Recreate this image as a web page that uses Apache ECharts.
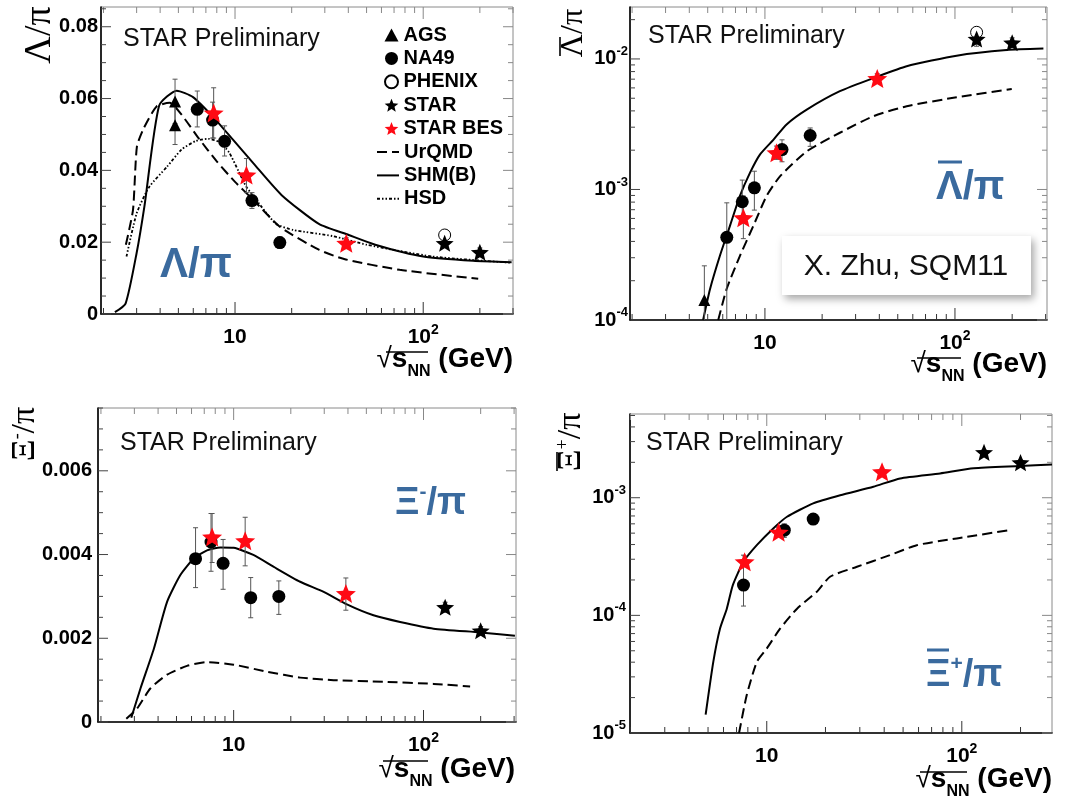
<!DOCTYPE html>
<html><head><meta charset="utf-8">
<script src="https://cdn.jsdelivr.net/npm/echarts@6/dist/echarts.min.js"></script>
<style>html,body{margin:0;padding:0;background:#fff}#c{width:1085px;height:809px}</style>
</head><body><div id="c"></div>
<script>
// ---------------- DATA ----------------
// energies (sqrt(s_NN), GeV)
const E_AGS = [4.8, 4.8];
const E_NA49 = [6.3, 7.6, 8.8, 12.3, 17.3];
const E_BES = [7.7, 11.5, 39];
const E_STAR = [130, 200];
const E_PHENIX = [130];
const E_NA49_XIBAR = [7.6, 12.3, 17.3];

// Panel 1: Lambda/pi
const L_AGS = [0.0592, 0.0526], L_AGS_LO = [0.0530, 0.0472], L_AGS_HI = [0.0654, 0.0580];
const L_NA49 = [0.0570, 0.0540, 0.0481, 0.0316, 0.0199];
const L_NA49_LO = [0.0521, 0.0490, 0.0440, 0.0294, 0.0183];
const L_NA49_HI = [0.0621, 0.0590, 0.0524, 0.0338, 0.0215];
const L_BES = [0.0560, 0.0387, 0.0197], L_BES_LO = [0.0490, 0.0338, 0.0182], L_BES_HI = [0.0630, 0.0433, 0.0212];
const L_STAR = [0.0197, 0.0172], L_STAR_LO = [0.0185, 0.0160], L_STAR_HI = [0.0209, 0.0184];
const L_PHENIX = [0.0220], L_PHENIX_LO = [0.0210], L_PHENIX_HI = [0.0230];
const L_SHM_X = [2.3, 2.62, 3.0, 3.3, 3.95, 4.9, 5.98, 7.64, 9.8, 12.5, 17.7, 27.9, 40.2, 55.6, 100, 184, 295];
const L_SHM_Y = [0.0005, 0.0029, 0.0170, 0.0300, 0.0580, 0.0622, 0.0604, 0.0549, 0.0484, 0.0420, 0.0331, 0.0251, 0.0220, 0.0193, 0.0160, 0.0148, 0.0144];
const L_URQMD_X = [2.63, 2.87, 3.01, 3.27, 3.83, 4.5, 5.2, 6.4, 8.0, 10, 12.5, 17.3, 27.9, 38, 75, 196];
const L_URQMD_Y = [0.0193, 0.0290, 0.0466, 0.0517, 0.0578, 0.0588, 0.0555, 0.0490, 0.0425, 0.0368, 0.0318, 0.0243, 0.0179, 0.0153, 0.0123, 0.0098];
const L_HSD_X = [2.65, 3.0, 3.5, 4.35, 5.2, 6.2, 7.2, 8.3, 9.3, 10.5, 11.5, 14.7, 16.6, 20.4, 33, 50, 113, 290];
const L_HSD_Y = [0.0160, 0.0280, 0.0354, 0.0410, 0.0458, 0.0482, 0.0488, 0.0478, 0.0450, 0.0395, 0.0354, 0.0281, 0.0250, 0.0234, 0.0217, 0.0193, 0.0160, 0.0143];

// Panel 2: anti-Lambda/pi
const AL_AGS = [1.42e-4], AL_AGS_LO = [5e-5], AL_AGS_HI = [2.6e-4];
const AL_NA49 = [4.3e-4, 8.05e-4, 1.03e-3, 2.02e-3, 2.59e-3];
const AL_NA49_LO = [5e-5, 5.6e-4, 6.95e-4, 1.63e-3, 2.14e-3];
const AL_NA49_HI = [7.9e-4, 1.18e-3, 1.38e-3, 2.40e-3, 2.96e-3];
const AL_BES = [6.07e-4, 1.91e-3, 7.07e-3], AL_BES_LO = [4.2e-4, 1.70e-3, 6.5e-3], AL_BES_HI = [8.9e-4, 2.15e-3, 7.7e-3];
const AL_STAR = [0.0142, 0.0133], AL_STAR_LO = [0.0125, 0.0122], AL_STAR_HI = [0.0158, 0.0145];
const AL_PHENIX = [0.0160], AL_PHENIX_LO = [0.0150], AL_PHENIX_HI = [0.0175];
const AL_SHM_X = [4.73, 5.14, 5.79, 6.54, 7.38, 8.34, 9.41, 11.1, 13.0, 16.6, 24.8, 38.7, 55.7, 102, 187, 292];
const AL_SHM_Y = [1.0e-4, 1.72e-4, 3.09e-4, 5.24e-4, 8.9e-4, 1.34e-3, 1.85e-3, 2.41e-3, 3.15e-3, 4.09e-3, 5.66e-3, 7.28e-3, 8.79e-3, 1.06e-2, 1.17e-2, 1.20e-2];
const AL_URQMD_X = [5.68, 6.28, 7.38, 8.68, 10.2, 12.0, 16.6, 24.8, 37.2, 55.7, 102, 199];
const AL_URQMD_Y = [1.0e-4, 1.72e-4, 3.09e-4, 5.24e-4, 8.9e-4, 1.26e-3, 1.96e-3, 2.72e-3, 3.64e-3, 4.34e-3, 5.09e-3, 5.89e-3];

// Panel 3: Xi-/pi
const X_NA49 = [0.00390, 0.00430, 0.00379, 0.00297, 0.00300];
const X_NA49_LO = [0.00321, 0.00360, 0.00317, 0.00249, 0.00257];
const X_NA49_HI = [0.00464, 0.00498, 0.00436, 0.00345, 0.00337];
const X_BES = [0.00442, 0.00433, 0.00307], X_BES_LO = [0.00381, 0.00373, 0.00267], X_BES_HI = [0.00498, 0.00489, 0.00344];
const X_STAR = [0.00274, 0.00218], X_STAR_LO = [0.00262, 0.00208], X_STAR_HI = [0.00286, 0.00228];
const X_SHM_X = [2.89, 3.23, 3.8, 4.46, 5.24, 6.15, 7.24, 8.51, 10, 12.7, 16.2, 22.4, 29.8, 39.5, 54.5, 75.3, 113, 199, 303];
const X_SHM_Y = [0.0001, 0.0008, 0.00175, 0.00287, 0.00351, 0.00390, 0.00410, 0.00417, 0.00416, 0.00399, 0.00371, 0.00335, 0.00311, 0.00281, 0.00255, 0.00239, 0.00223, 0.00214, 0.00206];
const X_URQMD_X = [2.72, 3.1, 3.64, 4.46, 5.68, 7.24, 10, 15, 22.4, 33.6, 61.5, 113, 176];
const X_URQMD_Y = [0.00008, 0.00032, 0.00080, 0.00113, 0.00134, 0.00143, 0.00137, 0.00120, 0.00106, 0.00100, 0.00096, 0.00091, 0.00085];

// Panel 4: anti-Xi+/pi
const AX_NA49 = [1.81e-4, 5.3e-4, 6.58e-4], AX_NA49_LO = [1.2e-4, 4.6e-4, 6.2e-4], AX_NA49_HI = [3.25e-4, 6.0e-4, 7.0e-4];
const AX_BES = [2.85e-4, 5.1e-4, 1.66e-3], AX_BES_LO = [2.6e-4, 4.7e-4, 1.55e-3], AX_BES_HI = [3.2e-4, 5.6e-4, 1.78e-3];
const AX_STAR = [2.43e-3, 1.99e-3], AX_STAR_LO = [2.3e-3, 1.88e-3], AX_STAR_HI = [2.56e-3, 2.1e-3];
const AX_SHM_X = [4.86, 5.32, 5.76, 6.24, 6.7, 7.59, 8.89, 10.8, 12.7, 17.3, 23.8, 35.2, 48.3, 77.4, 115, 199, 290];
const AX_SHM_Y = [1.43e-5, 4.02e-5, 7.72e-5, 1.14e-4, 1.81e-4, 2.85e-4, 3.95e-4, 5.48e-4, 6.89e-4, 8.95e-4, 1.05e-3, 1.24e-3, 1.46e-3, 1.61e-3, 1.78e-3, 1.86e-3, 1.92e-3];
const AX_URQMD_X = [7.21, 7.89, 8.89, 10, 11.7, 14.3, 18.0, 21.1, 29.0, 42.8, 58.7, 94.2, 177];
const AX_URQMD_Y = [1.0e-5, 2.09e-5, 4.02e-5, 5.22e-5, 7.7e-5, 1.14e-4, 1.58e-4, 2.13e-4, 2.59e-4, 3.25e-4, 3.95e-4, 4.51e-4, 5.31e-4];

// ---------------- LAYOUT / STYLE ----------------
const FONT = "'Liberation Sans', Arial, Helvetica, sans-serif";
const SERIF = "'Liberation Serif', 'DejaVu Serif', serif";
const BLUE = '#3a6a9e';
const RED = '#ff0a14';
const STAR_PATH = 'path://M50,0 L62.93,32.2 L97.55,34.55 L70.92,56.8 L79.39,90.45 L50,72 L20.61,90.45 L29.08,56.8 L2.45,34.55 L37.07,32.2 Z';

const PANELS = [
  {grid: {left: 101, top: 7, width: 412, height: 307}, x: [1.94, 300], y: [0, 0.0855], ylog: false, yInt: 0.02, yMinor: 0.005, yDec: 2, yMargin: 3},
  {grid: {left: 630, top: 7, width: 417, height: 313}, x: [1.95, 305], y: [1e-4, 0.025], ylog: true, yMargin: 2},
  {grid: {left: 98, top: 408, width: 418, height: 314}, x: [1.93, 307], y: [0, 0.0075], ylog: false, yInt: 0.002, yMinor: 0.0005, yDec: 3, yMargin: 6},
  {grid: {left: 630, top: 414, width: 422, height: 319}, x: [1.99, 290], y: [1e-5, 0.00515], ylog: true, yMargin: 4}
];

const zip = (xs, ys) => xs.map((x, i) => [x, ys[i]]);
const zipErr = (xs, lo, hi) => xs.map((x, i) => [x, lo[i], hi[i]]);

function logTicks(a, b) {
  const out = [];
  for (let e = -6; e <= 3; e++) for (let m = 1; m <= 9; m++) {
    const v = m * Math.pow(10, e);
    if (v >= a * 0.999 && v <= b * 1.001) out.push([v, m === 1 ? 1 : 0]);
  }
  return out;
}
function linTicks(max, step, major) {
  const out = [];
  const ratio = Math.round(major / step);
  for (let k = 0; k * step <= max + 1e-12; k++) out.push([k * step, k % ratio === 0 ? 1 : 0]);
  return out;
}

const supRich = {
  b: {fontSize: 20, fontWeight: 'bold', fontFamily: FONT, color: '#000'},
  s: {fontSize: 13, fontWeight: 'bold', fontFamily: FONT, color: '#000', padding: [0, 0, 15, 0]}
};
const xSupRich = {
  b: {fontSize: 21, fontWeight: 'bold', fontFamily: FONT, color: '#000'},
  s: {fontSize: 14, fontWeight: 'bold', fontFamily: FONT, color: '#000', padding: [0, 0, 14, 0]}
};
function xLogLabel(v) {
  const l = Math.log10(v), r = Math.round(l);
  if (Math.abs(l - r) > 1e-6) return '';
  if (r === 1) return '{s| }{b|10}{s| }';
  return '{b|10}{s|' + r + '}';
}
function yLogLabel(v) {
  const l = Math.log10(v), r = Math.round(l);
  if (Math.abs(l - r) > 1e-6) return '';
  return '{b|10}{s|' + r + '}';
}

const grids = [], xAxes = [], yAxes = [], series = [];
PANELS.forEach((p, i) => {
  grids.push(Object.assign({show: true, borderColor: '#8a8a8a', borderWidth: 1, backgroundColor: 'transparent'}, p.grid));
  xAxes.push({
    type: 'log', logBase: 10, gridIndex: i, min: p.x[0], max: p.x[1],
    axisLine: {lineStyle: {color: '#000', width: 1.6}}, axisTick: {show: false}, splitLine: {show: false},
    axisLabel: {formatter: xLogLabel, rich: xSupRich, margin: 9, showMinLabel: false, showMaxLabel: false}
  });
  const ya = {
    gridIndex: i, min: p.y[0], max: p.y[1],
    axisLine: {lineStyle: {color: '#000', width: 1.6}}, axisTick: {show: false}, splitLine: {show: false}
  };
  if (p.ylog) {
    Object.assign(ya, {type: 'log', logBase: 10,
      axisLabel: {formatter: yLogLabel, rich: supRich, margin: p.yMargin}});
  } else {
    Object.assign(ya, {type: 'value', interval: p.yInt,
      axisLabel: {
        formatter: (v) => {
          const k = Math.round(v / p.yInt);
          if (Math.abs(v - k * p.yInt) > 1e-9) return '';
          return k === 0 ? '0' : (k * p.yInt).toFixed(p.yDec);
        },
        fontSize: 20, fontWeight: 'bold', fontFamily: FONT, color: '#000', margin: p.yMargin
      }});
  }
  yAxes.push(ya);

  // tick marks on all four sides (ROOT style)
  const xt = logTicks(p.x[0], p.x[1]).map(t => [t[0], p.y[0], t[1]]);
  const yt = (p.ylog ? logTicks(p.y[0], p.y[1]) : linTicks(p.y[1], p.yMinor, p.yInt)).map(t => [p.x[0], t[0], t[1]]);
  series.push({
    type: 'custom', xAxisIndex: i, yAxisIndex: i, silent: true, z: 5, data: xt,
    renderItem: (params, api) => {
      const v = api.value(0), major = api.value(2);
      const b = api.coord([v, p.y[0]]), t = api.coord([v, p.y[1]]);
      const L = major ? 12 : 6;
      return {type: 'group', children: [
        {type: 'line', shape: {x1: b[0], y1: b[1], x2: b[0], y2: b[1] - L}, style: {stroke: '#333', lineWidth: 1}},
        {type: 'line', shape: {x1: t[0], y1: t[1], x2: t[0], y2: t[1] + L}, style: {stroke: '#888', lineWidth: 1}}
      ]};
    }
  });
  series.push({
    type: 'custom', xAxisIndex: i, yAxisIndex: i, silent: true, z: 5, data: yt,
    renderItem: (params, api) => {
      const v = api.value(1), major = api.value(2);
      const l = api.coord([p.x[0], v]), r = api.coord([p.x[1], v]);
      const L = major ? 10 : 5;
      return {type: 'group', children: [
        {type: 'line', shape: {x1: l[0], y1: l[1], x2: l[0] + L, y2: l[1]}, style: {stroke: '#444', lineWidth: 1}},
        {type: 'line', shape: {x1: r[0], y1: r[1], x2: r[0] - L, y2: r[1]}, style: {stroke: '#888', lineWidth: 1}}
      ]};
    }
  });
});

function errSeries(i, xs, lo, hi) {
  return {
    type: 'custom', xAxisIndex: i, yAxisIndex: i, silent: true, z: 3, clip: true,
    data: zipErr(xs, lo, hi), encode: {x: 0, y: [1, 2]},
    renderItem: (params, api) => {
      const x = api.value(0);
      const a = api.coord([x, api.value(1)]), b = api.coord([x, api.value(2)]);
      const c = 2.5, st = {stroke: '#555', lineWidth: 1};
      return {type: 'group', children: [
        {type: 'line', shape: {x1: a[0], y1: a[1], x2: b[0], y2: b[1]}, style: st},
        {type: 'line', shape: {x1: a[0] - c, y1: a[1], x2: a[0] + c, y2: a[1]}, style: st},
        {type: 'line', shape: {x1: b[0] - c, y1: b[1], x2: b[0] + c, y2: b[1]}, style: st}
      ]};
    }
  };
}
const MARK = {
  'AGS': {symbol: 'triangle', symbolSize: 12, itemStyle: {color: '#000', opacity: 1}},
  'NA49': {symbol: 'circle', symbolSize: 13, itemStyle: {color: '#000', opacity: 1}},
  'PHENIX': {symbol: 'circle', symbolSize: 12, itemStyle: {color: '#fff', borderColor: '#000', borderWidth: 1, opacity: 1}},
  'STAR': {symbol: STAR_PATH, symbolSize: 18, itemStyle: {color: '#000', opacity: 1}},
  'STAR BES': {symbol: STAR_PATH, symbolSize: 20, itemStyle: {color: RED, opacity: 1}}
};
function pts(i, name, xs, ys, lo, hi) {
  series.push(errSeries(i, xs, lo, hi));
  series.push(Object.assign({type: 'scatter', name: name, xAxisIndex: i, yAxisIndex: i, z: 4, symbolKeepAspect: true, data: zip(xs, ys)}, MARK[name]));
}
const LINE = {
  'UrQMD': {lineStyle: {color: '#000', width: 2, type: [10, 5]}},
  'SHM(B)': {lineStyle: {color: '#000', width: 2, type: 'solid'}},
  'HSD': {lineStyle: {color: '#000', width: 1.8, type: [3, 2, 1.5, 2, 1.5, 2]}}
};
function curve(i, name, xs, ys) {
  series.push(Object.assign({type: 'line', name: name, xAxisIndex: i, yAxisIndex: i, z: 2, symbol: 'none', showSymbol: false,
    smooth: 0.2, itemStyle: {color: 'rgba(0,0,0,0)'}, data: zip(xs, ys)}, LINE[name]));
}

// Panel 1
curve(0, 'UrQMD', L_URQMD_X, L_URQMD_Y);
curve(0, 'SHM(B)', L_SHM_X, L_SHM_Y);
curve(0, 'HSD', L_HSD_X, L_HSD_Y);
pts(0, 'AGS', E_AGS, L_AGS, L_AGS_LO, L_AGS_HI);
pts(0, 'NA49', E_NA49, L_NA49, L_NA49_LO, L_NA49_HI);
pts(0, 'PHENIX', E_PHENIX, L_PHENIX, L_PHENIX_LO, L_PHENIX_HI);
pts(0, 'STAR', E_STAR, L_STAR, L_STAR_LO, L_STAR_HI);
pts(0, 'STAR BES', E_BES, L_BES, L_BES_LO, L_BES_HI);
// Panel 2
curve(1, 'UrQMD', AL_URQMD_X, AL_URQMD_Y);
curve(1, 'SHM(B)', AL_SHM_X, AL_SHM_Y);
pts(1, 'AGS', [E_AGS[0]], AL_AGS, AL_AGS_LO, AL_AGS_HI);
pts(1, 'NA49', E_NA49, AL_NA49, AL_NA49_LO, AL_NA49_HI);
pts(1, 'PHENIX', E_PHENIX, AL_PHENIX, AL_PHENIX_LO, AL_PHENIX_HI);
pts(1, 'STAR', E_STAR, AL_STAR, AL_STAR_LO, AL_STAR_HI);
pts(1, 'STAR BES', E_BES, AL_BES, AL_BES_LO, AL_BES_HI);
// Panel 3
curve(2, 'UrQMD', X_URQMD_X, X_URQMD_Y);
curve(2, 'SHM(B)', X_SHM_X, X_SHM_Y);
pts(2, 'NA49', E_NA49, X_NA49, X_NA49_LO, X_NA49_HI);
pts(2, 'STAR', E_STAR, X_STAR, X_STAR_LO, X_STAR_HI);
pts(2, 'STAR BES', E_BES, X_BES, X_BES_LO, X_BES_HI);
// Panel 4
curve(3, 'UrQMD', AX_URQMD_X, AX_URQMD_Y);
curve(3, 'SHM(B)', AX_SHM_X, AX_SHM_Y);
pts(3, 'NA49', E_NA49_XIBAR, AX_NA49, AX_NA49_LO, AX_NA49_HI);
pts(3, 'STAR', E_STAR, AX_STAR, AX_STAR_LO, AX_STAR_HI);
pts(3, 'STAR BES', E_BES, AX_BES, AX_BES_LO, AX_BES_HI);

// ---------------- TEXT ----------------
const gtext = (x, y, text, font, fill, align) => ({
  type: 'text', x: x, y: y, silent: true, z: 10,
  style: {text: text, font: font, fill: fill || '#111', align: align || 'left', verticalAlign: 'middle', textAlign: align || 'left', textVerticalAlign: 'middle'}
});
const grich = (x, y, text, rich, align, rot) => ({
  type: 'text', x: x, y: y, silent: true, z: 10, rotation: rot || 0,
  style: {text: text, rich: rich, align: align, verticalAlign: 'middle', textAlign: align, textVerticalAlign: 'middle'}
});
const gbar = (x1, y1, x2, y2, color, w) => ({type: 'line', silent: true, z: 10, shape: {x1: x1, y1: y1, x2: x2, y2: y2}, style: {stroke: color, lineWidth: w}});

const graphics = [];
// STAR Preliminary
[[123, 39.5], [648, 36], [120, 443.5], [646, 443.5]].forEach(q => graphics.push(gtext(q[0], q[1], 'STAR Preliminary', '25px ' + FONT, '#111')));
// big blue labels
const blueRich = {
  a: {fontSize: 38, fontWeight: 'bold', fontFamily: FONT, fill: BLUE},
  s: {fontSize: 21, fontWeight: 'bold', fontFamily: FONT, fill: BLUE, padding: [0, 0, 24, 0]}
};
graphics.push(gtext(160, 265, 'Λ/π', 'bold 42px ' + FONT, BLUE));
graphics.push(gtext(936, 188, 'Λ/π', 'bold 40px ' + FONT, BLUE));
graphics.push(gbar(938, 162, 962, 162, BLUE, 3));
graphics.push(grich(395, 504, '{a|Ξ}{s|-}{a|/π}', blueRich, 'left'));
graphics.push(grich(926, 676, '{a|Ξ}{s|+}{a|/π}', blueRich, 'left'));
graphics.push(gbar(927, 650, 949, 650, BLUE, 3));

// y-axis titles (rotated, reading bottom to top)
const yTitleRich = (sz) => ({
  a: {fontSize: sz, fontFamily: SERIF, fill: '#000'},
  s: {fontSize: 18, fontFamily: SERIF, fill: '#000', padding: [0, 0, 16, 0]}
});
graphics.push(grich(40, 35, '{a|Λ/π}', yTitleRich(38), 'center', Math.PI / 2));
graphics.push(grich(574, 33, '{a|Λ/π}', yTitleRich(32), 'center', Math.PI / 2));
graphics.push(gbar(560, 37, 560, 56, '#000', 1.6));
graphics.push(grich(25, 434, '{a|Ξ}{s|-}{a|/π}', yTitleRich(34), 'center', Math.PI / 2));
graphics.push(grich(571, 442, '{a|Ξ}{s|+}{a|/π}', yTitleRich(34), 'center', Math.PI / 2));
graphics.push(gbar(557, 452, 557, 471, '#000', 1.6));

// x-axis titles
const xTitleRich = {
  r: {fontSize: 28, fontFamily: FONT, fill: '#000', lineHeight: 30, verticalAlign: 'top'},
  m: {fontSize: 28, fontWeight: 'bold', fontFamily: FONT, fill: '#000', lineHeight: 30, verticalAlign: 'top'},
  n: {fontSize: 16, fontWeight: 'bold', fontFamily: FONT, fill: '#000', lineHeight: 16, padding: [24, 0, 0, 0]}
};
const XT = [[513, 360, 386, 428, 352], [1047, 365, 917, 961, 358], [515, 770, 383, 428, 761], [1052, 780, 920, 967, 772]];
XT.forEach(q => {
  graphics.push(grich(q[0], q[1], '{r|√}{m|s}{n|NN}{m| (GeV)}', xTitleRich, 'right'));
  graphics.push(gbar(q[2], q[4], q[3], q[4], '#000', 1.5));
});

// X. Zhu, SQM11 box
graphics.push({type: 'rect', silent: true, z: 9, shape: {x: 782, y: 236, width: 249, height: 59},
  style: {fill: '#fff', shadowBlur: 8, shadowColor: 'rgba(0,0,0,0.35)', shadowOffsetX: 3, shadowOffsetY: 4}});
graphics.push(gtext(906, 267, 'X. Zhu, SQM11', '30px ' + FONT, '#111', 'center'));

const legendText = {fontSize: 20, fontWeight: 'bold', color: '#000', fontFamily: FONT};
const chart = echarts.init(document.getElementById('c'), null, {renderer: 'canvas'});
chart.setOption({
  animation: false,
  backgroundColor: '#fff',
  textStyle: {fontFamily: FONT},
  grid: grids, xAxis: xAxes, yAxis: yAxes,
  legend: [{
    data: ['AGS', 'NA49', 'PHENIX', 'STAR', 'STAR BES'],
    orient: 'vertical', left: 379, top: 20, itemWidth: 14, itemHeight: 13, itemGap: 3.4,
    symbolKeepAspect: true, textStyle: legendText, selectedMode: false
  }, {
    data: ['UrQMD', 'SHM(B)', 'HSD'],
    orient: 'vertical', left: 371, top: 137, itemWidth: 22, itemHeight: 13, itemGap: 3.4,
    textStyle: legendText, selectedMode: false
  }],
  graphic: graphics,
  series: series
});
</script></body></html>
